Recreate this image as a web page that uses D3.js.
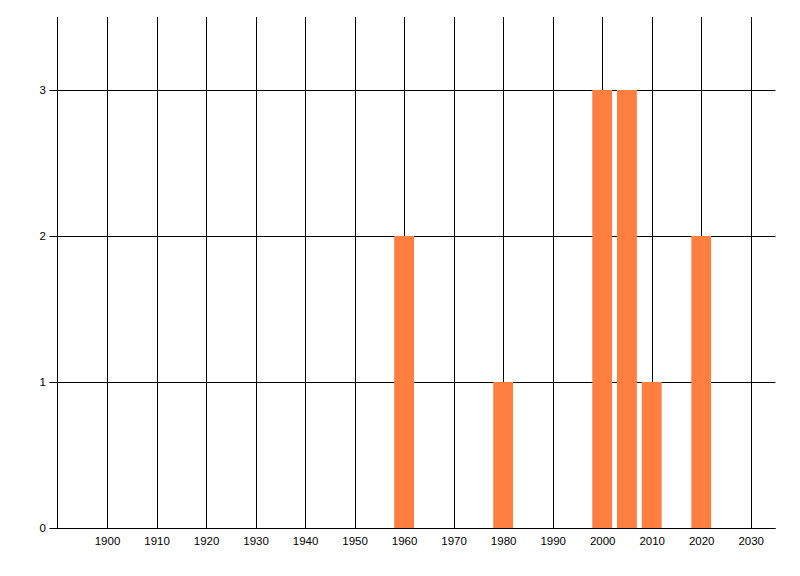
<!DOCTYPE html>
<html>
<head>
<meta charset="utf-8">
<script src="https://cdn.jsdelivr.net/npm/d3@7"></script>
<style>
html,body{margin:0;padding:0;background:#fff;}
svg{display:block;}
text{font-family:"Liberation Sans",Arial,sans-serif;font-size:11.5px;fill:#000;}
</style>
</head>
<body>
<svg id="chart" width="800" height="576"></svg>
<script>
const years = [1960, 1980, 2000, 2005, 2010, 2020];
const counts = [2, 1, 3, 3, 1, 2];
const xTicks = [1900, 1910, 1920, 1930, 1940, 1950, 1960, 1970, 1980, 1990, 2000, 2010, 2020, 2030];
const yTicks = [0, 1, 2, 3];
const xDomain = [1890, 2035];
const yDomain = [0, 3.5];
const barYears = 4;

(function () {
const svg = d3.select("#chart");
const mLeft = 57.5, mRight = 775.5, mTop = 17, mBottom = 528;
const x = d3.scaleLinear().domain(xDomain).range([mLeft, mRight]);
const y = d3.scaleLinear().domain(yDomain).range([mBottom, mTop]);

// vertical gridlines
svg.append("g").selectAll("line").data(xTicks).join("line")
  .attr("x1", d => Math.round(x(d)) + 0.5).attr("x2", d => Math.round(x(d)) + 0.5)
  .attr("y1", mTop).attr("y2", mBottom)
  .attr("stroke", "#000").attr("stroke-width", 1);

// horizontal gridlines with ticks
svg.append("g").selectAll("line").data(yTicks).join("line")
  .attr("x1", mLeft - 8).attr("x2", mRight)
  .attr("y1", d => Math.round(y(d)) + 0.5).attr("y2", d => Math.round(y(d)) + 0.5)
  .attr("stroke", "#000").attr("stroke-width", 1);

// left axis line
svg.append("line")
  .attr("x1", mLeft).attr("x2", mLeft).attr("y1", mTop).attr("y2", mBottom)
  .attr("stroke", "#000");

// bars
svg.append("g").selectAll("rect").data(years).join("rect")
  .attr("x", d => x(d - barYears / 2))
  .attr("width", d => x(d + barYears / 2) - x(d - barYears / 2))
  .attr("y", (d, i) => y(counts[i]))
  .attr("height", (d, i) => y(0) - y(counts[i]))
  .attr("fill", "#FF7F40");

// x axis line on top
svg.append("line")
  .attr("x1", mLeft).attr("x2", mRight)
  .attr("y1", Math.round(y(0)) + 0.5).attr("y2", Math.round(y(0)) + 0.5)
  .attr("stroke", "#000");

// x labels
svg.append("g").selectAll("text").data(xTicks).join("text")
  .attr("x", d => x(d) + 0.5).attr("y", 545)
  .attr("text-anchor", "middle")
  .text(d => d);

// y labels
svg.append("g").selectAll("text").data(yTicks).join("text")
  .attr("x", 46).attr("y", d => y(d) + 4)
  .attr("text-anchor", "end")
  .text(d => d);
})();
</script>
</body>
</html>
